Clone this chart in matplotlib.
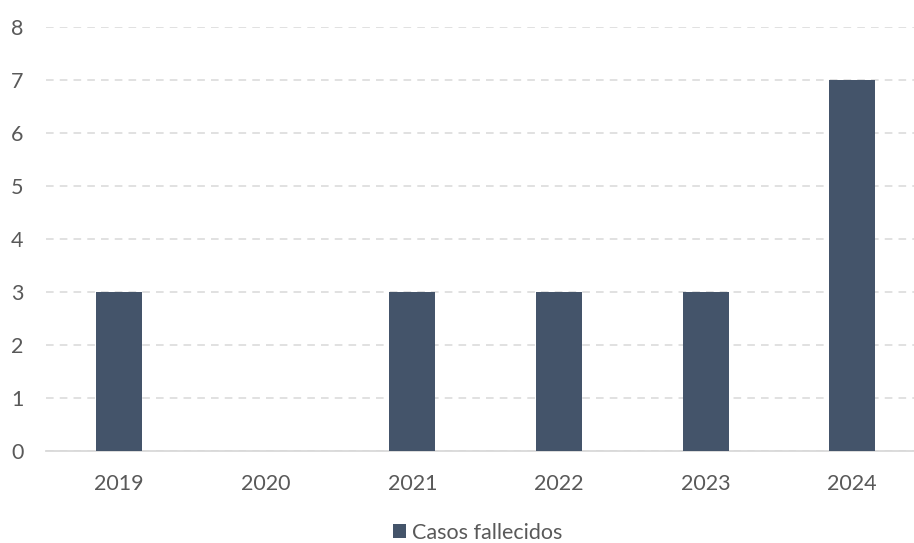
import matplotlib.pyplot as plt
from matplotlib.patches import Patch

years = ["2019", "2020", "2021", "2022", "2023", "2024"]
deaths = [3, 0, 3, 3, 3, 7]
y_ticks = [0, 1, 2, 3, 4, 5, 6, 7, 8]

BAR_COLOR = "#44546A"
TEXT_COLOR = "#595959"
GRID_COLOR = "#D9D9D9"

plt.rcParams["font.family"] = ["Lato", "DejaVu Sans"]

fig = plt.figure(figsize=(9.14, 5.43), dpi=100)
# the category axis runs a little past the right edge of the picture
ax = fig.add_axes([0.0499, 0.1694, 0.9628, 0.7808])

x = range(len(years))
ax.bar(x, deaths, width=0.314, color=BAR_COLOR, zorder=3)

ax.set_xlim(-0.5, len(years) - 0.5)
ax.set_ylim(0, 8)
ax.set_xticks(list(x))
ax.set_xticklabels(years)
ax.set_yticks(y_ticks)

ax.grid(axis="y", color=GRID_COLOR, linestyle=(0, (5, 4)), linewidth=1.1, zorder=0)
for side in ("top", "right", "left"):
    ax.spines[side].set_visible(False)
ax.spines["bottom"].set_color(GRID_COLOR)
ax.spines["bottom"].set_linewidth(1.3)

ax.tick_params(axis="both", length=0, labelsize=15.5, labelcolor=TEXT_COLOR)
ax.tick_params(axis="x", pad=16.5)
ax.tick_params(axis="y", pad=16)

handles = [Patch(facecolor=BAR_COLOR, label="Casos fallecidos")]
fig.legend(handles=handles, loc="center", bbox_to_anchor=(0.5224, 0.019),
           frameon=False, fontsize=15.5, labelcolor=TEXT_COLOR,
           handlelength=0.6, handleheight=0.6, handletextpad=0.3)

fig.savefig("out.png", dpi=100)
